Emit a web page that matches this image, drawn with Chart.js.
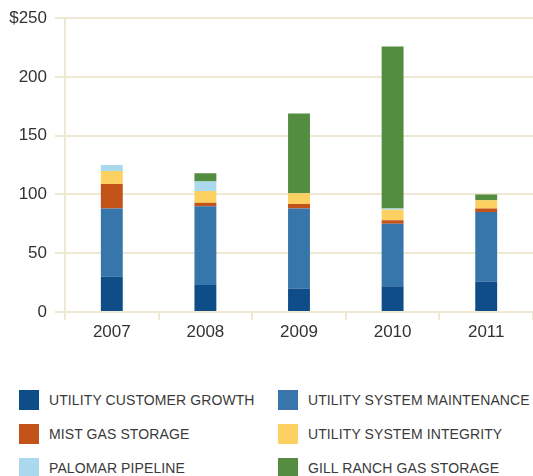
<!DOCTYPE html>
<html lang="en">
<head>
  <meta charset="UTF-8">
  <title>Capital Expenditures</title>
  <style>
    body { margin: 0; background: #fff; font-family: "Liberation Sans", Arial, sans-serif; }
    #wrap { position: relative; width: 533px; height: 476px; overflow: hidden; }
    #chart-box { position: absolute; left: 0; top: 0; width: 533px; height: 352px; }
    #legend { position: absolute; left: 19px; top: 390px; width: 600px; }
    .item { position: absolute; display: flex; align-items: center; white-space: nowrap;
            font-size: 14px; letter-spacing: 0.1px; color: #3a3a3a; }
    .item span.box { width: 20px; height: 20px; margin-right: 10px; display: inline-block; }
  </style>
  <script src="https://cdn.jsdelivr.net/npm/chart.js"></script>
</head>
<body>
<div id="wrap">
  <div id="chart-box"><canvas id="capexChart"></canvas></div>
  <div id="legend"></div>
</div>
<script>
// categories and series ($ millions)
const years = ['2007', '2008', '2009', '2010', '2011'];
const customerGrowth = [30, 23, 20, 22, 26];
const systemMaintenance = [58, 67, 68, 53, 59];
const mistStorage = [21, 3, 4, 3, 3];
const systemIntegrity = [11, 10, 9, 9, 7];
const palomar = [5, 8, 0, 1, 0];
const gillRanch = [0, 7, 68, 138, 5];
const yTicks = [0, 50, 100, 150, 200, 250];

const series = [
  { label: 'UTILITY CUSTOMER GROWTH', data: customerGrowth, color: '#0f4d89' },
  { label: 'UTILITY SYSTEM MAINTENANCE', data: systemMaintenance, color: '#3776aa' },
  { label: 'MIST GAS STORAGE', data: mistStorage, color: '#c45319' },
  { label: 'UTILITY SYSTEM INTEGRITY', data: systemIntegrity, color: '#fdd161' },
  { label: 'PALOMAR PIPELINE', data: palomar, color: '#aad9ee' },
  { label: 'GILL RANCH GAS STORAGE', data: gillRanch, color: '#548c40' }
];

const gridColor = '#efe8d2';

const ctx = document.getElementById('capexChart').getContext('2d');
new Chart(ctx, {
  type: 'bar',
  data: {
    labels: years,
    datasets: series.map(s => ({
      label: s.label,
      data: s.data,
      backgroundColor: s.color,
      borderWidth: 0,
      categoryPercentage: 1,
      barPercentage: 0.234
    }))
  },
  options: {
    responsive: true,
    maintainAspectRatio: false,
    animation: false,
    layout: { padding: { top: 13, right: 0, left: 0, bottom: 0 } },
    plugins: {
      legend: { display: false },
      tooltip: { enabled: false }
    },
    scales: {
      x: {
        stacked: true,
        grid: { color: gridColor, lineWidth: 2, offset: true, drawOnChartArea: false, tickLength: 8 },
        border: { color: gridColor, width: 2 },
        ticks: { color: '#333', font: { size: 17, family: 'Liberation Sans' }, padding: 2 },
        afterFit: s => { s.height = 40; }
      },
      y: {
        stacked: true,
        min: 0,
        max: 250,
        afterBuildTicks: s => { s.ticks = yTicks.map(v => ({ value: v })); },
        grid: { color: gridColor, lineWidth: 2, tickLength: 10 },
        border: { color: gridColor, width: 2 },
        ticks: {
          color: '#333',
          font: { size: 17, family: 'Liberation Sans' },
          padding: 8,
          callback: v => v === 250 ? '$250' : v
        },
        afterFit: s => { s.width = 65; }
      }
    }
  }
});

// two-column legend built from the series
const legend = document.getElementById('legend');
series.forEach((s, i) => {
  const el = document.createElement('div');
  el.className = 'item';
  el.style.left = (i % 2 === 0 ? 0 : 259) + 'px';
  el.style.top = (Math.floor(i / 2) * 34) + 'px';
  el.innerHTML = '<span class="box" style="background:' + s.color + '"></span>' + s.label;
  legend.appendChild(el);
});
</script>
</body>
</html>
